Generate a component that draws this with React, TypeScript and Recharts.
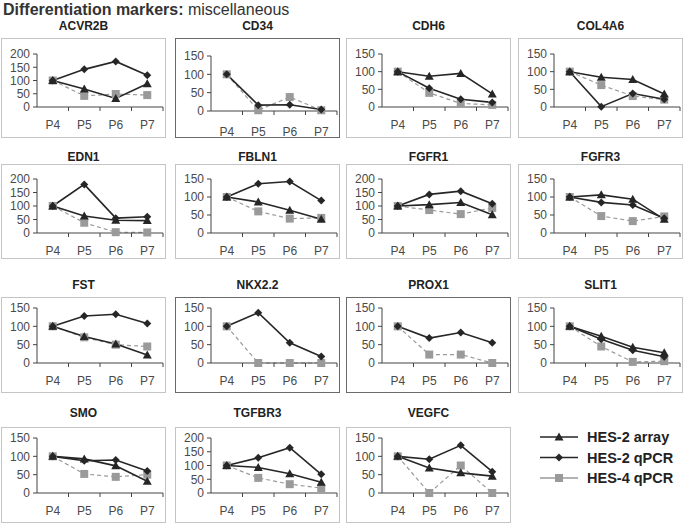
import { Line, LineChart, XAxis, YAxis } from "recharts";

const stages = ["P4", "P5", "P6", "P7"];

const genes = [
  "ACVR2B", "CD34", "CDH6", "COL4A6",
  "EDN1", "FBLN1", "FGFR1", "FGFR3",
  "FST", "NKX2.2", "PROX1", "SLIT1",
  "SMO", "TGFBR3", "VEGFC",
];

const yMax = [200, 150, 150, 150, 200, 150, 200, 150, 150, 150, 150, 150, 150, 200, 150];

// HES-2 array (triangles), null where the gene has no array line
const hes2Array = [
  [100, 68, 32, 88],
  null,
  [100, 87, 95, 37],
  [100, 84, 78, 37],
  [100, 63, 47, 46],
  [100, 86, 63, 38],
  [100, 105, 113, 68],
  [100, 106, 94, 38],
  [100, 72, 52, 22],
  null,
  null,
  [100, 73, 43, 28],
  [100, 93, 74, 32],
  [100, 93, 70, 39],
  [100, 68, 55, 46],
];

// HES-2 qPCR (diamonds)
const hes2Qpcr = [
  [100, 142, 172, 120],
  [100, 16, 17, 4],
  [100, 53, 22, 13],
  [100, 1, 38, 22],
  [100, 180, 55, 60],
  [100, 137, 143, 90],
  [100, 143, 155, 108],
  [100, 85, 78, 41],
  [100, 128, 133, 108],
  [100, 137, 55, 18],
  [100, 68, 83, 55],
  [100, 65, 35, 17],
  [100, 88, 90, 60],
  [100, 128, 165, 68],
  [100, 92, 130, 58],
];

// HES-4 qPCR (grey squares, dashed)
const hes4Qpcr = [
  [100, 42, 49, 45],
  [100, 2, 38, 2],
  [100, 40, 10, 6],
  [100, 62, 31, 21],
  [100, 38, 3, 2],
  [100, 60, 40, 42],
  [100, 85, 70, 93],
  [100, 47, 33, 46],
  [100, 70, 50, 45],
  [100, 0, 0, 0],
  [100, 23, 23, 0],
  [100, 45, 3, 5],
  [100, 52, 44, 50],
  [100, 55, 32, 18],
  [100, 0, 75, 0],
];

const darkBoxes = ["CD34", "NKX2.2", "PROX1"];

const font = "'Liberation Sans', Arial, sans-serif";
const dark = "#262626";
const grey = "#9a9a9a";

const colLeft = [1, 175, 346, 518];
const rowTop = [38, 164, 297, 427];
const rowHeight = [100, 95, 96, 96];
const rowTitle = [26, 157, 285, 413];
const rowPlotTop = [16, 15, 11, 11];
const rowZero = [69, 69, 66, 66];
const boxW = 165;
const axisX = 36;
const plotW = 126;
const band = plotW / 4;

function Triangle(props: any) {
  const { cx, cy } = props;
  if (cx == null || cy == null) return null;
  return <path d={`M${cx},${cy - 4.5}L${cx + 4.5},${cy + 3.5}L${cx - 4.5},${cy + 3.5}Z`} fill={dark} />;
}

function Diamond(props: any) {
  const { cx, cy } = props;
  if (cx == null || cy == null) return null;
  return <path d={`M${cx},${cy - 4}L${cx + 4},${cy}L${cx},${cy + 4}L${cx - 4},${cy}Z`} fill={dark} />;
}

function Square(props: any) {
  const { cx, cy } = props;
  if (cx == null || cy == null) return null;
  return <rect x={cx - 4} y={cy - 4} width={8} height={8} fill={grey} />;
}

function StageTick(props: any) {
  const { x, y, payload, labelGap } = props;
  return (
    <g>
      <line x1={x + band / 2} x2={x + band / 2} y1={y} y2={y + 4} stroke="#444" />
      <text x={x} y={y + labelGap} textAnchor="middle" fontSize={12} fill="#4a4a4a" fontFamily={font}>
        {payload.value}
      </text>
    </g>
  );
}

function Panel({ index }: { index: number }) {
  const row = Math.floor(index / 4);
  const col = index % 4;
  const left = colLeft[col];
  const top = rowTop[row];
  const h = rowHeight[row];
  const name = genes[index];
  const max = yMax[index];
  const ticks = max === 200 ? [0, 50, 100, 150, 200] : [0, 50, 100, 150];
  const arr = hes2Array[index];
  const data = stages.map((stage, k) => ({
    stage,
    array: arr ? arr[k] : null,
    qpcr: hes2Qpcr[index][k],
    hes4: hes4Qpcr[index][k],
  }));
  const isDark = darkBoxes.includes(name);
  // CD34 sits a little lower in its box than the others
  const plotTop = name === "CD34" ? 18 : rowPlotTop[row];
  const zero = name === "CD34" ? 73 : rowZero[row];
  const labelGap = name === "CD34" ? 25 : 22;

  return (
    <>
      <div
        style={{
          position: "absolute",
          left,
          top: rowTitle[row] - 7,
          width: boxW,
          textAlign: "center",
          fontFamily: font,
          fontWeight: "bold",
          fontSize: 12,
          lineHeight: "14px",
          color: "#222",
        }}
      >
        {name}
      </div>
      <div
        style={{
          position: "absolute",
          left,
          top,
          width: boxW,
          height: h,
          boxSizing: "border-box",
          border: isDark ? "1.5px solid #6a6a6a" : "1px solid #c4c4c4",
        }}
      />
      <div style={{ position: "absolute", left, top }}>
        <LineChart
          width={boxW}
          height={h}
          data={data}
          margin={{ top: plotTop, right: boxW - axisX - plotW, left: 0, bottom: 0 }}
        >
          <XAxis
            dataKey="stage"
            height={h - zero}
            padding={{ left: band / 2, right: band / 2 }}
            stroke="#444"
            tickLine={false}
            tickSize={0}
            tickMargin={0}
            interval={0}
            tick={<StageTick labelGap={labelGap} />}
          />
          <YAxis
            width={axisX}
            domain={[0, max]}
            ticks={ticks}
            interval={0}
            stroke="#444"
            tickSize={4}
            tickMargin={3}
            tick={{ fontSize: 12, fill: "#4a4a4a", fontFamily: font }}
          />
          <Line
            dataKey="hes4"
            stroke={grey}
            strokeWidth={1.2}
            strokeDasharray="4 3"
            dot={<Square />}
            isAnimationActive={false}
          />
          {arr && (
            <Line dataKey="array" stroke={dark} strokeWidth={1.6} dot={<Triangle />} isAnimationActive={false} />
          )}
          <Line dataKey="qpcr" stroke={dark} strokeWidth={1.6} dot={<Diamond />} isAnimationActive={false} />
        </LineChart>
      </div>
    </>
  );
}

const legendItems = [
  { label: "HES-2 array", color: dark, shape: "triangle" },
  { label: "HES-2 qPCR", color: dark, shape: "diamond" },
  { label: "HES-4 qPCR", color: grey, shape: "square" },
];

function Legend() {
  return (
    <svg style={{ position: "absolute", left: 535, top: 425 }} width={150} height={65}>
      {legendItems.map((item, i) => {
        const y = 12 + i * 20.5;
        const cx = 24;
        return (
          <g key={item.label}>
            <line x1={5} x2={43} y1={y} y2={y} stroke={item.color} strokeWidth={1.5} />
            {item.shape === "triangle" && <Triangle cx={cx} cy={y} />}
            {item.shape === "diamond" && <Diamond cx={cx} cy={y} />}
            {item.shape === "square" && <Square cx={cx} cy={y} />}
            <text x={52} y={y + 5} fontSize={14.5} fontWeight="bold" fill="#222" fontFamily={font}>
              {item.label}
            </text>
          </g>
        );
      })}
    </svg>
  );
}

export default function App() {
  return (
    <div style={{ position: "absolute", left: 0, top: 0, width: 685, height: 525, background: "#fff" }}>
      <div
        style={{
          position: "absolute",
          left: 3,
          top: 1,
          fontFamily: font,
          fontSize: 16,
          lineHeight: "18px",
          color: "#333",
          whiteSpace: "nowrap",
        }}
      >
        <b>Differentiation markers:</b> miscellaneous
      </div>
      {genes.map((g, i) => (
        <Panel key={g} index={i} />
      ))}
      <Legend />
    </div>
  );
}
